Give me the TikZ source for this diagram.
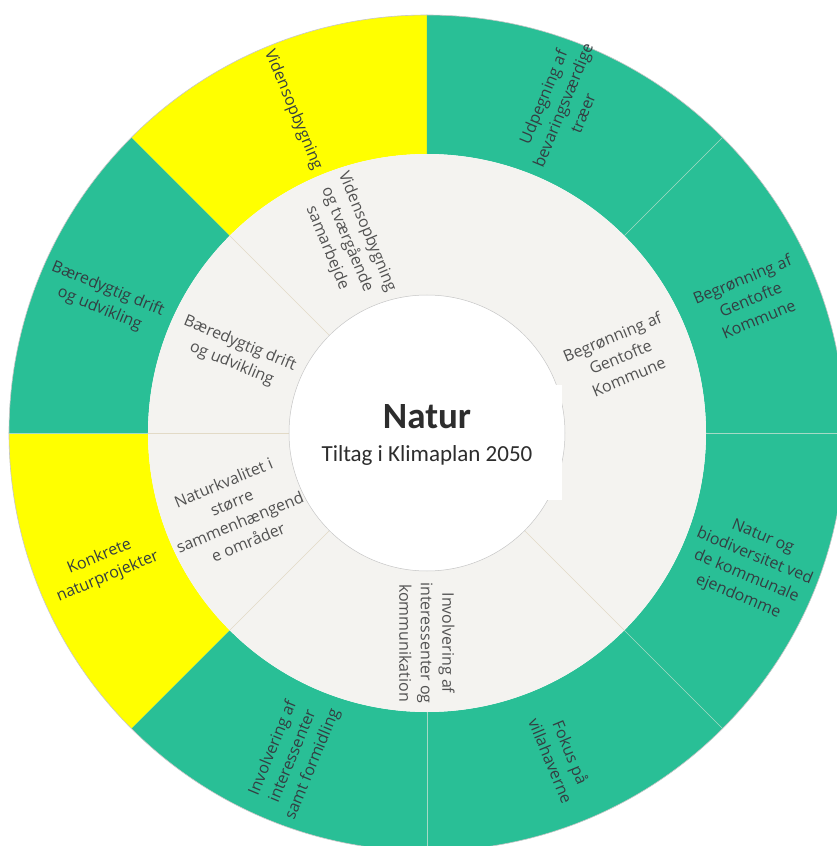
\documentclass[tikz,border=0pt]{standalone}
\usepackage{fontspec}
\setmainfont{Open Sans}
\newfontfamily\titlefont{Carlito}
\definecolor{ringgreen}{RGB}{41,191,150}
\definecolor{ringyellow}{RGB}{255,255,0}
\definecolor{ringgrey}{RGB}{244,243,240}
\definecolor{greensep}{RGB}{165,218,198}
\definecolor{greysep}{RGB}{226,218,198}
\definecolor{outertext}{RGB}{52,62,66}
\definecolor{innertext}{RGB}{82,82,82}
\definecolor{titletext}{RGB}{45,45,45}
\tikzset{
  ringlabel/.style={font=\fontsize{16}{21.5}\selectfont, align=center, inner sep=0pt},
  outerlabel/.style={ringlabel, text=outertext},
  innerlabel/.style={ringlabel, text=innertext},
  greensepline/.style={draw=greensep, line width=0.7pt},
  greysepline/.style={draw=greysep, line width=0.7pt},
}
\newcommand\ringsector[5]{%
  \fill[#5] (#1:#3) arc[start angle=#1, end angle=#2, radius=#3] -- (#2:#4) arc[start angle=#2, end angle=#1, radius=#4] -- cycle;}
\begin{document}
\begin{tikzpicture}[x=1pt,y=1pt]
\clip (-427,-413) rectangle (410,433);
\fill[white] (-427,-413) rectangle (410,433);
% outer ring
\ringsector{90}{135}{279}{418}{ringyellow}
\ringsector{135}{180}{279}{418}{ringgreen}
\ringsector{180}{225}{279}{418}{ringyellow}
\ringsector{225}{450}{279}{418}{ringgreen}
\draw[gray!45, line width=0.6pt] (0,0) circle (418);
% inner ring
\fill[ringgrey] (0,0) circle (279);
% separators outer ring
\draw[greensepline] (0:279) -- (0:418);
\draw[greensepline] (45:279) -- (45:418);
\draw[greensepline] (180:279) -- (180:418);
\draw[greensepline] (270:279) -- (270:418);
\draw[greensepline] (315:279) -- (315:418);
% separators inner ring
\draw[greysepline] (135:138) -- (135:279);
\draw[greysepline] (180:138) -- (180:279);
\draw[greysepline] (225:138) -- (225:279);
\draw[greysepline] (315:138) -- (315:279);
% centre
\fill[white] (0,0) circle (138);
\draw[gray!45, line width=0.5pt] (0,0) circle (138);
\fill[white] (0,-67) rectangle (135,48);
\node[font=\titlefont\bfseries\fontsize{37}{40}\selectfont, text=titletext] (title) at (0,16) {Natur};
\node[font=\titlefont\fontsize{23}{26}\selectfont, text=titletext] (subtitle) at (0,-22) {Tiltag i Klimaplan 2050};
% outer labels
\node[outerlabel, rotate=-67.5] (vidO) at (112.5:350) {Vidensopbygning};
\node[outerlabel, rotate=-22.5] (baerO) at (157.5:350) {Bæredygtig drift\\og udvikling};
\node[outerlabel, rotate=22.5] (konkO) at (202.5:350) {Konkrete\\naturprojekter};
\node[outerlabel, rotate=67.5] (invO) at (247.5:350) {Involvering af\\interessenter\\samt formidling};
\node[outerlabel, rotate=-67.5] (fokO) at (292.5:350) {Fokus på\\villahaverne};
\node[outerlabel, rotate=-22.5] (natO) at (337.5:350) {Natur og\\biodiversitet ved\\de kommunale\\ejendomme};
\node[outerlabel, rotate=22.5] (begO) at (22.5:350) {Begrønning af\\Gentofte\\Kommune};
\node[outerlabel, rotate=67.5] (udpO) at (67.5:355) {Udpegning af\\bevaringsværdige\\træer};
% inner labels
\node[innerlabel, rotate=-67.5] (vidI) at (112.5:209) {Vidensopbygning\\og tværgående\\samarbejde};
\node[innerlabel, rotate=-22.5] (baerI) at (157.5:207) {Bæredygtig drift\\og udvikling};
\node[innerlabel, rotate=22.5] (natI) at (202.5:207) {Naturkvalitet i\\større\\sammenhængend\\e områder};
\node[innerlabel, rotate=-90] (invI) at (270:210) {Involvering af\\interessenter og\\kommunikation};
\node[innerlabel, rotate=22.5] (begI) at (21.5:208) {Begrønning af\\Gentofte\\Kommune};
\end{tikzpicture}
\end{document}
